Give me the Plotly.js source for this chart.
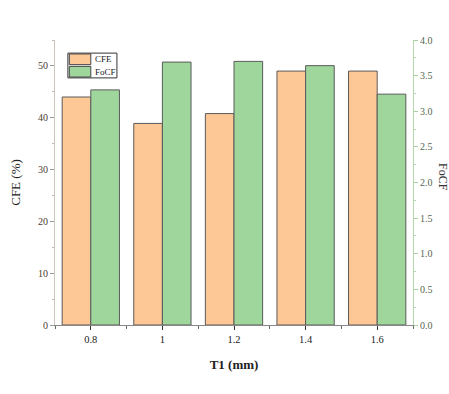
<!DOCTYPE html>
<html>
<head>
<meta charset="utf-8">
<script src="https://cdn.plot.ly/plotly-3.0.1.min.js"></script>
<style>html,body{margin:0;padding:0;background:#fff;}#chart{width:449px;height:394px;}</style>
</head>
<body>
<div id="chart"></div>
<script>
var t1 = [0.8, 1.0, 1.2, 1.4, 1.6];
var tickLabels = ['0.8', '1', '1.2', '1.4', '1.6'];
var seriesNames = ['CFE', 'FoCF'];
var cfe = [44.0, 38.9, 40.8, 49.0, 49.0];
var focf = [3.30, 3.69, 3.70, 3.64, 3.24];

var font = 'Liberation Serif, Times New Roman, serif';
var colors = ['#FDC896', '#9ED69C'];

var traces = [
  {type: 'bar', name: seriesNames[0], x: t1, y: cfe, yaxis: 'y', width: 0.08, offset: -0.08,
   marker: {color: colors[0], line: {color: '#5a5a5a', width: 1}}},
  {type: 'bar', name: seriesNames[1], x: t1, y: focf, yaxis: 'y2', width: 0.08, offset: 0,
   marker: {color: colors[1], line: {color: '#5a5a5a', width: 1}}}
];

// compact legend box (plot-area paper coordinates)
var lx0 = 0.036, lx1 = 0.173, ly1 = 0.954, ly0 = 0.867;
var sw0 = 0.040, sw1 = 0.100;
var rowH = (ly1 - ly0) / 2;
var shapes = [
  {type: 'rect', xref: 'paper', yref: 'paper', x0: lx0, x1: lx1, y0: ly0, y1: ly1,
   line: {color: '#333', width: 1}, fillcolor: '#fff', layer: 'above'}
];
var annotations = [];
for (var i = 0; i < seriesNames.length; i++) {
  var yt = ly1 - i * rowH - 0.003, yb = ly1 - (i + 1) * rowH + 0.003;
  shapes.push({type: 'rect', xref: 'paper', yref: 'paper', x0: sw0, x1: sw1, y0: yb, y1: yt,
    line: {color: '#444', width: 1}, fillcolor: colors[i], layer: 'above'});
  annotations.push({text: seriesNames[i], xref: 'paper', yref: 'paper', x: sw1 + 0.005,
    y: (yt + yb) / 2, xanchor: 'left', yanchor: 'middle', showarrow: false,
    font: {family: font, size: 9, color: '#222'}});
}
annotations.push({text: 'FoCF', xref: 'paper', yref: 'paper', x: 1.058, y: 0.52, showarrow: false,
  textangle: 90, font: {family: font, size: 12, color: '#333'}, xanchor: 'left', yanchor: 'middle'});

var layout = {
  width: 449, height: 394,
  margin: {l: 55, r: 36, t: 40, b: 69},
  paper_bgcolor: '#fff', plot_bgcolor: '#fff',
  font: {family: font, size: 10, color: '#333'},
  showlegend: false,
  xaxis: {range: [0.7, 1.7], tickvals: t1, ticktext: tickLabels,
          ticks: 'outside', ticklen: 4, tickcolor: '#333', showgrid: false, zeroline: false,
          showline: true, linecolor: '#888', linewidth: 1,
          minor: {dtick: 0.2, tick0: 0.7, ticks: 'outside', ticklen: 3, tickcolor: '#666'},
          tickfont: {family: font, size: 10.5, color: '#222'},
          title: {text: '<b>T1 (mm)</b>', font: {family: font, size: 13, color: '#222'}, standoff: 16}},
  xaxis2: {overlaying: 'x', matches: 'x', side: 'top', range: [0.7, 1.7], tickvals: t1,
           showticklabels: false, ticks: 'inside', ticklen: 5, tickcolor: '#333',
           showgrid: false, zeroline: false, showline: true, linecolor: '#555', linewidth: 1},
  yaxis: {range: [0, 55], dtick: 10, ticks: 'outside', ticklen: 4, tickcolor: '#999',
          showgrid: false, zeroline: false, showline: true, linecolor: '#cfc7bd', linewidth: 1,
          minor: {dtick: 5, ticks: 'outside', ticklen: 2, tickcolor: '#bbb'},
          tickfont: {family: font, size: 10, color: '#4a3c30'},
          title: {text: 'CFE (%)', font: {family: font, size: 13, color: '#222'}, standoff: 14}},
  yaxis2: {overlaying: 'y', side: 'right', range: [0, 4], dtick: 0.5, tickformat: '.1f',
           ticks: 'outside', ticklen: 4, tickcolor: '#a8cfa2',
           showgrid: false, zeroline: false, showline: true, linecolor: '#b0d6aa', linewidth: 1,
           minor: {dtick: 0.25, ticks: 'outside', ticklen: 2, tickcolor: '#b8d8b2'},
           tickfont: {family: font, size: 10, color: '#556650'}},
  shapes: shapes,
  annotations: annotations
};

Plotly.newPlot('chart', traces, layout, {displayModeBar: false, staticPlot: true});
</script>
</body>
</html>
